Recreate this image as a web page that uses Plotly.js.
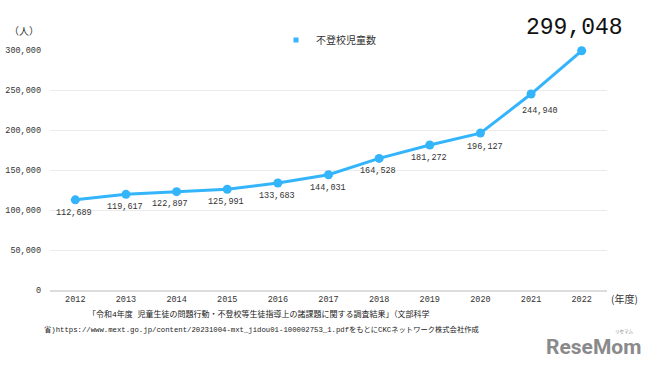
<!DOCTYPE html>
<html><head><meta charset="utf-8">
<script src="https://cdn.plot.ly/plotly-3.0.1.min.js"></script>
<style>html,body{margin:0;padding:0;background:#fff}#chart{width:657px;height:367px}</style>
</head><body><div id="chart"></div>
<script>
const years = ['2012','2013','2014','2015','2016','2017','2018','2019','2020','2021','2022'];
const students = [112689,119617,122897,125991,133683,144031,164528,181272,196127,244940,299048];
const seriesName = '不登校児童数';
const yTicks = [0,50000,100000,150000,200000,250000,300000];
const yTickText = ['0','50,000','100,000','150,000','200,000','250,000','300,000'];

const fmt = v => v.toLocaleString('en-US');
const n = students.length;

const mono = '"Liberation Mono", "DejaVu Sans Mono", monospace';
const jp = '"Noto Sans CJK JP", "Noto Sans", sans-serif';
const mixed = '"Liberation Mono", "Noto Sans CJK JP", monospace';
const blue = '#33b4fb';

const trace = {
  x: years, y: students, type:'scatter', mode:'lines+markers',
  name: seriesName, showlegend:false,
  line:{color:blue, width:3},
  marker:{color:blue, size:9},
  cliponaxis:false
};
const legendTrace = {
  x:[null], y:[null], type:'scatter', mode:'markers', name: seriesName,
  marker:{color:blue, size:5, symbol:'square'}, showlegend:true
};

// label placement tweaks (pixels), layout only
function labelShift(i){
  if (i === n-1) return {dx:-7, dy:23};
  if (i === n-2) return {dx:9, dy:-17};
  if (i === n-3) return {dx:5, dy:-14};
  if (i === 2) return {dx:-7, dy:-12};
  return {dx:-1, dy:-13};
}
// on a category axis, annotations are positioned by category index
const dataLabels = students.map((v,i) => {
  const s = labelShift(i);
  const big = i === n-1;
  return {x: years.indexOf(years[i]), y: v, xref:'x', yref:'y', text: fmt(v), showarrow:false,
          xanchor:'center', yanchor:'middle', xshift:s.dx, yshift:s.dy,
          font:{family:mono, size: big ? 23 : 8.5, color: big ? '#111' : '#333'}};
});

const PL=50, PR=607, PT=50, PB=290;
const px = x => (x-PL)/(PR-PL);
const py = y => (PB-y)/(PB-PT);
const ann = (text, x, y, font) => ({text, xref:'paper', yref:'paper', x:px(x), y:py(y),
  xanchor:'center', yanchor:'middle', showarrow:false, font});

const layout = {
  width:657, height:367,
  margin:{l:PL, r:657-PR, t:PT, b:367-PB},
  paper_bgcolor:'#fff', plot_bgcolor:'#fff',
  showlegend:true,
  legend:{orientation:'h', x:0.5, xanchor:'center', y:py(40), yanchor:'middle',
          font:{family:jp, size:10, color:'#333'}, itemwidth:14, bgcolor:'rgba(0,0,0,0)'},
  xaxis:{type:'category', range:[-0.5,10.5], showgrid:false, zeroline:false,
         showline:true, linecolor:'#dcdcdc', linewidth:2, ticks:'',
         tickfont:{family:mono, size:8.5, color:'#333'}},
  yaxis:{range:[0,300000], tickvals:yTicks, ticktext:yTickText, showgrid:true,
         gridcolor:'#ebebeb', gridwidth:1, zeroline:false, showline:false, ticks:'',
         tickfont:{family:mono, size:8.5, color:'#333'}, ticklabelstandoff:8},
  annotations: dataLabels.concat([
    ann('（人）', 24, 30, {family:jp, size:10, color:'#333'}),
    ann('(年度)', 624, 298, {family:jp, size:10, color:'#333'}),
    ann('「令和4年度 児童生徒の問題行動・不登校等生徒指導上の諸課題に関する調査結果」（文部科学', 259, 314,
        {family:mixed, size:8, color:'#222'}),
    ann('省)https://www.mext.go.jp/content/20231004-mxt_jidou01-100002753_1.pdfをもとにCKCネットワーク株式会社作成', 261, 329,
        {family:mixed, size:7.3, color:'#222'}),
    ann('<b>ReseMom</b>', 593, 347, {family:'Roboto, "Liberation Sans", sans-serif', size:21, color:'#8a8a8a'}),
    ann('リセマム', 624, 331, {family:jp, size:4.5, color:'#8a8a8a'})
  ])
};

Plotly.newPlot('chart', [trace, legendTrace], layout, {displayModeBar:false, staticPlot:true});
</script></body></html>
